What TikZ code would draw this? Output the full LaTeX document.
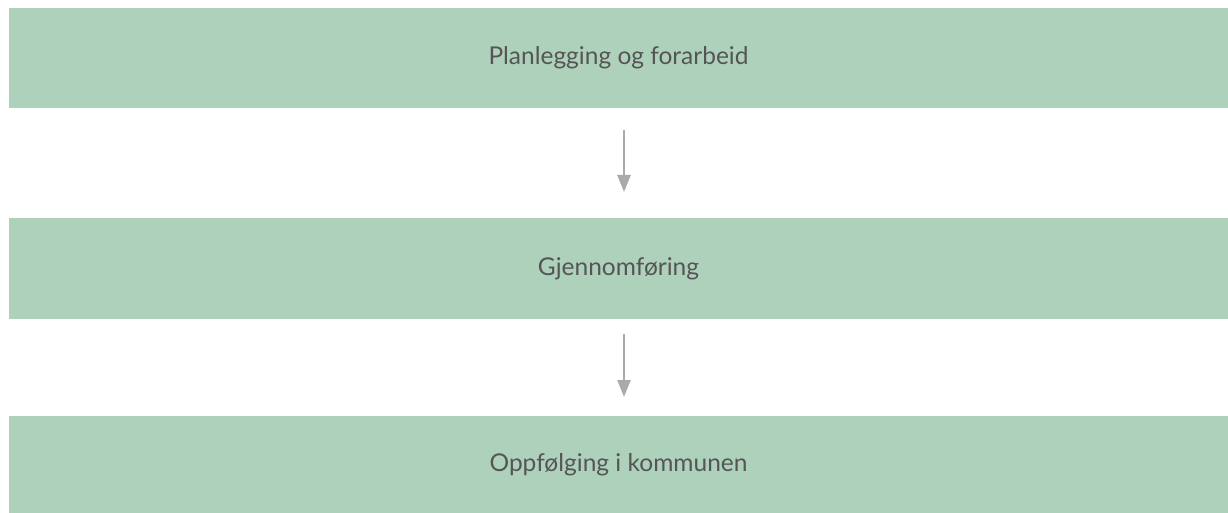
\documentclass[tikz,border=0pt]{standalone}
\usepackage{fontspec}
\setmainfont{Lato}
\usetikzlibrary{positioning,arrows.meta}

\definecolor{phasegreen}{HTML}{AED1BC}
\definecolor{phasetext}{HTML}{555555}
\definecolor{arrowgray}{HTML}{AAAAAA}

\tikzset{
  phase/.style={fill=phasegreen, minimum width=1219pt, inner sep=0pt, outer sep=0pt,
    text=phasetext, font=\fontsize{24.5}{29}\selectfont},
  flow/.style={draw=arrowgray, line width=2.5pt, -{Triangle[length=17pt,width=13pt]}}
}

\begin{document}
\begin{tikzpicture}

\useasboundingbox (0,0) rectangle (1228pt,-513pt);

\node[phase, minimum height=100pt] (plan) at (618.5pt,-58pt) {Planlegging og forarbeid};
\node[phase, minimum height=101pt, below=110pt of plan] (gjennom) {Gjennomføring};
\node[phase, minimum height=97pt, below=97pt of gjennom] (oppf) {Oppfølging i kommunen};

%arrows between the phases
\draw[flow, shorten <=22pt, shorten >=26pt] ([xshift=5.5pt]plan.south) -- ([xshift=5.5pt]gjennom.north);
\draw[flow, shorten <=15pt, shorten >=19pt] ([xshift=5.5pt]gjennom.south) -- ([xshift=5.5pt]oppf.north);
\end{tikzpicture}
\end{document}
